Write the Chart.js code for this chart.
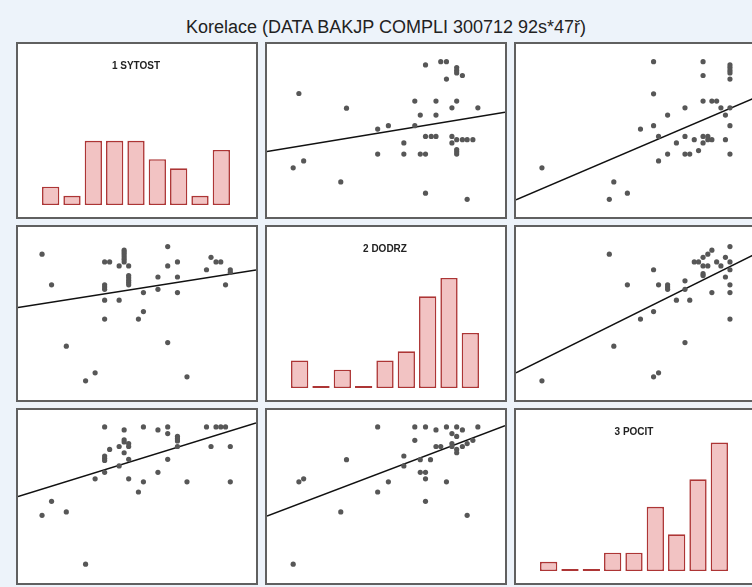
<!DOCTYPE html>
<html>
<head>
<meta charset="utf-8">
<script src="https://cdn.jsdelivr.net/npm/chart.js@4"></script>
<style>
  body { margin: 0; background: #edf3fa; }
  #page { position: relative; width: 752px; height: 587px; overflow: hidden; background: #edf3fa; }
  #title { position: absolute; left: 0; top: 16px; width: 772px; text-align: center;
           font: 18px "Liberation Sans", Arial, sans-serif; color: #222; line-height: 22px; }
  .panel { position: absolute; width: 238px; height: 173px; border: 2px solid #606060; background: #fff; }
  .panel canvas { display: block; }
</style>
</head>
<body>
<div id="page">
  <div id="title">Korelace (DATA BAKJP COMPLI 300712 92s*47ř)</div>
</div>
<script>
// histogram categories and counts
const histLabels = ['1', '2', '3', '4', '5', '6', '7', '8', '9']
const sytostCounts = [2, 1, 7, 7, 7, 5, 4, 1, 6]
const dodrzCounts = [3, 0, 2, 0, 3, 4, 10, 12, 6]
const pocitCounts = [1, 0, 0, 2, 2, 7, 4, 10, 14]

// scatter points [x, y], panel units 0..100
const sytostVsDodrz = [[13.4,71.4],[33.4,62.9],[11.0,28.4],[15.4,32.4],[31.0,20.3],[46.5,50.8],[51.0,52.8],[46.5,36.4],[57.5,42.8],[57.5,36.4],[62.1,67.0],[62.1,52.8],[64.4,58.9],[64.4,36.4],[66.6,36.4],[66.6,87.9],[66.6,46.6],[69.0,46.6],[71.0,46.6],[71.0,67.0],[71.0,58.9],[66.6,13.8],[73.0,89.8],[75.4,89.8],[75.4,79.7],[79.7,86.4],[79.7,84.7],[79.7,83.3],[82.1,81.8],[79.7,67.0],[77.7,63.1],[77.7,46.6],[77.7,42.8],[79.7,44.7],[82.1,44.7],[84.1,44.7],[86.5,44.7],[79.7,39.0],[79.7,37.7],[79.7,36.4],[88.6,63.1],[84.1,10.2]]
const sytostVsPocit = [[10.9,28.4],[41.1,20.3],[39.2,10.2],[46.8,13.8],[52.3,50.8],[57.8,89.8],[57.8,71.2],[57.8,52.8],[59.9,46.6],[59.9,32.4],[63.7,58.9],[63.7,36.4],[67.4,42.8],[71.0,63.1],[71.0,46.6],[71.0,36.4],[73.0,36.4],[74.9,44.7],[76.7,38.4],[78.6,89.8],[78.6,81.8],[78.6,67.0],[78.6,46.6],[78.6,42.8],[80.6,46.6],[80.6,44.7],[82.3,44.7],[82.3,67.0],[84.3,67.0],[86.1,63.1],[88.0,58.9],[88.0,44.7],[89.9,87.9],[89.9,86.4],[89.9,84.7],[89.9,83.3],[89.9,79.7],[89.9,63.1],[89.9,52.8],[89.9,36.4]]
const dodrzVsSytost = [[10.1,84.3],[14.1,66.6],[20.3,31.1],[28.4,11.1],[32.4,15.7],[36.4,79.8],[38.5,79.8],[36.4,66.6],[36.4,65.3],[36.4,64.0],[36.4,57.7],[36.4,46.8],[42.5,77.5],[42.5,57.7],[44.6,86.6],[44.6,85.3],[44.6,84.0],[44.6,82.6],[44.6,81.3],[44.6,79.8],[46.5,77.5],[46.5,71.9],[46.5,70.6],[46.5,69.2],[46.5,67.9],[46.5,66.6],[50.6,46.8],[52.7,62.1],[52.7,51.1],[58.8,71.1],[58.8,64.0],[62.9,88.7],[62.9,77.5],[62.9,33.2],[67.0,79.8],[67.0,71.1],[67.0,62.1],[71.0,13.4],[79.2,75.3],[81.1,82.5],[83.2,79.8],[85.2,79.8],[87.2,66.6],[89.2,75.3],[89.2,73.8]]
const dodrzVsPocit = [[10.9,11.1],[39.2,84.3],[41.1,31.1],[46.8,66.6],[52.3,46.8],[57.8,75.3],[57.8,51.1],[57.8,13.4],[59.9,15.7],[59.9,66.6],[63.7,66.6],[63.7,65.3],[63.7,64.0],[67.4,57.7],[71.0,68.9],[71.0,64.0],[71.0,33.2],[73.0,57.7],[74.9,79.8],[76.7,79.8],[78.6,82.5],[78.6,77.5],[78.6,73.0],[78.6,71.9],[80.6,84.3],[80.6,77.5],[82.3,86.6],[82.3,62.1],[84.3,79.8],[86.1,77.5],[88.0,82.5],[88.0,71.1],[89.9,88.7],[89.9,79.8],[89.9,75.3],[89.9,66.6],[89.9,62.1],[89.9,46.8]]
const pocitVsSytost = [[10.1,39.1],[14.1,47.2],[20.3,41.1],[28.4,10.9],[32.4,60.2],[36.4,90.2],[36.4,73.4],[36.4,72.1],[36.4,70.8],[36.4,64.0],[38.5,77.2],[42.5,78.9],[42.5,67.7],[44.6,88.5],[44.6,82.8],[44.6,81.5],[44.6,75.3],[46.5,80.6],[46.5,78.9],[46.5,71.5],[46.5,60.2],[50.6,52.6],[52.7,90.2],[52.7,58.5],[58.8,88.5],[58.8,64.0],[62.9,90.2],[62.9,86.4],[62.9,71.5],[67.0,84.7],[67.0,83.4],[67.0,82.1],[67.0,78.9],[71.0,58.5],[79.2,90.2],[81.1,78.9],[83.2,90.2],[85.2,90.2],[87.2,90.2],[89.2,78.9],[89.2,58.5]]
const pocitVsDodrz = [[11.0,10.9],[13.4,58.5],[15.4,60.2],[31.0,41.1],[33.4,71.3],[46.5,90.2],[46.5,52.6],[51.0,58.5],[57.5,73.4],[57.5,67.7],[62.1,90.2],[62.1,82.5],[64.4,71.3],[64.4,64.0],[66.6,64.0],[66.6,60.2],[66.6,47.2],[66.6,90.2],[68.7,71.3],[71.0,88.5],[71.0,78.9],[73.0,78.9],[75.4,90.2],[75.4,58.5],[77.7,86.4],[77.7,80.6],[77.7,78.9],[79.7,90.2],[79.7,84.7],[79.7,77.2],[79.7,75.3],[82.1,88.5],[82.1,78.9],[84.1,80.6],[86.5,82.5],[84.1,39.1],[88.6,90.2]]

// fitted line: y at x=0 and at x=100
const fitSytostDodrz = [37.9, 60.6]
const fitSytostPocit = [10.0, 68.7]
const fitDodrzSytost = [53.4, 75.1]
const fitDodrzPocit = [15.7, 84.0]
const fitPocitSytost = [50.0, 92.5]
const fitPocitDodrz = [38.7, 90.9]

const colX = [16, 265, 514]
const rowY = [42, 225, 408]

function makePanel(row, col) {
  const div = document.createElement('div')
  div.className = 'panel'
  div.style.left = colX[col] + 'px'
  div.style.top = rowY[row] + 'px'
  const canvas = document.createElement('canvas')
  canvas.width = 238
  canvas.height = 173
  div.appendChild(canvas)
  document.getElementById('page').appendChild(div)
  return canvas
}

function histogram(row, col, title, counts) {
  new Chart(makePanel(row, col), {
    type: 'bar',
    data: {
      labels: histLabels,
      datasets: [{
        data: counts,
        backgroundColor: '#f2c3c3',
        borderColor: '#ad3535',
        borderWidth: 1.6,
        borderSkipped: false,
        minBarLength: 2,
        barPercentage: 0.81,
        categoryPercentage: 1,
      }],
    },
    options: {
      responsive: false,
      animation: false,
      layout: { padding: { left: 22, right: 24, top: 0, bottom: 12 } },
      scales: {
        x: { display: false },
        y: { display: false, min: 0, max: 14.5 },
      },
      plugins: {
        legend: { display: false },
        tooltip: { enabled: false },
        title: {
          display: true,
          text: title,
          color: '#222',
          font: { family: 'Liberation Sans', size: 10, weight: 'bold' },
          padding: { top: 16, bottom: 0 },
        },
      },
    },
  })
}

function scatter(row, col, points, fit) {
  new Chart(makePanel(row, col), {
    type: 'scatter',
    data: {
      datasets: [
        {
          data: points.map((p) => ({ x: p[0], y: p[1] })),
          backgroundColor: '#575757',
          borderWidth: 0,
          pointRadius: 2.6,
        },
        {
          data: [{ x: 0, y: fit[0] }, { x: 100, y: fit[1] }],
          showLine: true,
          borderColor: '#111',
          borderWidth: 1.5,
          pointRadius: 0,
        },
      ],
    },
    options: {
      responsive: false,
      animation: false,
      layout: { padding: 0, autoPadding: false },
      scales: {
        x: { display: false, min: 0, max: 100 },
        y: { display: false, min: 0, max: 100 },
      },
      plugins: {
        legend: { display: false },
        tooltip: { enabled: false },
      },
    },
  })
}

histogram(0, 0, '1 SYTOST', sytostCounts)
scatter(0, 1, sytostVsDodrz, fitSytostDodrz)
scatter(0, 2, sytostVsPocit, fitSytostPocit)
scatter(1, 0, dodrzVsSytost, fitDodrzSytost)
histogram(1, 1, '2 DODRZ', dodrzCounts)
scatter(1, 2, dodrzVsPocit, fitDodrzPocit)
scatter(2, 0, pocitVsSytost, fitPocitSytost)
scatter(2, 1, pocitVsDodrz, fitPocitDodrz)
histogram(2, 2, '3 POCIT', pocitCounts)
</script>
</body>
</html>
